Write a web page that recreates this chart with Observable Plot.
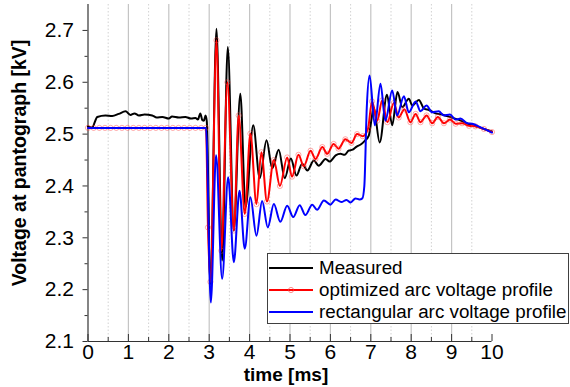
<!DOCTYPE html>
<html>
<head>
<meta charset="utf-8">
<script src="https://cdn.jsdelivr.net/npm/d3@7"></script>
<script src="https://cdn.jsdelivr.net/npm/@observablehq/plot@0.6"></script>
<style>
  html, body { margin: 0; padding: 0; background: #fff; }
  #wrap { position: relative; width: 570px; height: 387px; font-family: "Liberation Sans", Arial, sans-serif; }
  #legend { position: absolute; left: 267px; top: 253px; width: 300px; height: 69px; border: 1px solid #404040; background: #fff; box-sizing: content-box; }
  .row { position: absolute; left: 0; height: 22px; display: flex; align-items: center; font-size: 18.8px; color: #000; white-space: nowrap; }
  .row svg { margin-left: 1px; margin-right: 6px; }
</style>
</head>
<body>
<div id="wrap"></div>
<script>
// ---- data ----
const xMajor = [0,1,2,3,4,5,6,7,8,9,10];
const xMinor = [0.5,1.5,2.5,3.5,4.5,5.5,6.5,7.5,8.5,9.5];
const gridMajor = [1,2,3,4,5,6,7,8,9];
const yMajor = [2.1,2.2,2.3,2.4,2.5,2.6,2.7];
const yMinor = [2.15,2.25,2.35,2.45,2.55,2.65];

const seriesNames = ["Measured", "optimized arc voltage profile", "rectangular arc voltage profile"];
const seriesColors = ["#000000", "#ff0000", "#0000ff"];

const measuredT = [0.00,0.10,0.23,0.43,0.60,0.76,0.93,1.05,1.15,1.26,1.40,1.59,1.70,1.84,2.00,2.08,2.25,2.41,2.55,2.66,2.72,2.78,2.83,2.87,2.91,2.94,
  3.03,3.18,3.32,3.46,3.61,3.77,3.90,4.09,4.25,4.42,4.56,4.72,4.87,5.02,5.16,5.30,5.43,5.59,5.71,5.88,5.98,6.13,6.25,6.35,6.45,6.55,6.65,6.75,6.85,6.95,
  7.02,7.07,7.22,7.40,7.53,7.66,7.78,7.94,8.03,8.19,8.31,8.45,8.60,8.80,9.00,9.20,9.40,9.60,9.80,10.00];
const measuredV = [2.515,2.513,2.533,2.536,2.535,2.539,2.544,2.537,2.540,2.536,2.538,2.536,2.532,2.533,2.530,2.534,2.532,2.533,2.530,2.531,2.528,2.540,2.527,2.526,2.536,2.525,
  2.210,2.703,2.256,2.668,2.314,2.578,2.359,2.517,2.415,2.488,2.434,2.470,2.415,2.453,2.420,2.443,2.430,2.449,2.439,2.452,2.447,2.459,2.462,2.460,2.468,2.470,2.476,2.480,2.487,2.497,
  2.530,2.552,2.484,2.576,2.517,2.581,2.552,2.568,2.555,2.566,2.550,2.546,2.540,2.537,2.532,2.527,2.520,2.515,2.510,2.505];

const optimizedT = [0.00,0.14,0.28,0.42,0.56,0.70,0.84,0.98,1.12,1.26,1.40,1.54,1.68,1.82,1.96,2.10,2.24,2.38,2.52,2.66,2.80,2.92,
  2.97,3.03,3.18,3.30,3.45,3.61,3.73,3.88,4.02,4.17,4.29,4.43,4.60,4.75,4.93,5.05,5.21,5.34,5.51,5.63,5.80,5.92,6.08,6.20,6.37,6.52,6.66,6.80,6.93,
  7.03,7.16,7.28,7.41,7.57,7.69,7.83,7.98,8.11,8.23,8.38,8.52,8.66,8.81,8.96,9.10,9.26,9.43,9.59,9.80,10.00];
const optimizedV = [2.512,2.512,2.512,2.512,2.512,2.512,2.512,2.512,2.512,2.512,2.512,2.512,2.512,2.512,2.512,2.512,2.512,2.512,2.512,2.512,2.512,2.512,
  2.320,2.215,2.681,2.275,2.600,2.314,2.536,2.346,2.501,2.365,2.465,2.370,2.450,2.400,2.455,2.418,2.460,2.438,2.468,2.452,2.475,2.462,2.481,2.472,2.490,2.483,2.500,2.496,2.510,
  2.563,2.526,2.565,2.523,2.560,2.532,2.548,2.523,2.539,2.523,2.536,2.521,2.533,2.521,2.528,2.520,2.521,2.516,2.515,2.510,2.504];

const rectangularT = [0.00,1.50,2.80,2.92,
  3.04,3.17,3.32,3.47,3.61,3.75,3.88,4.02,4.17,4.31,4.45,4.60,4.76,4.93,5.08,5.24,5.38,5.55,5.67,5.84,6.00,6.13,6.27,6.40,6.50,6.62,6.72,6.79,
  6.84,6.90,6.97,7.10,7.24,7.36,7.53,7.65,7.82,7.94,8.11,8.23,8.38,8.52,8.68,8.81,8.96,9.10,9.22,9.39,9.51,9.72,10.00];
const rectangularV = [2.512,2.512,2.512,2.512,
  2.175,2.459,2.221,2.417,2.253,2.391,2.279,2.378,2.304,2.371,2.320,2.365,2.331,2.362,2.340,2.363,2.344,2.364,2.354,2.372,2.364,2.374,2.369,2.373,2.368,2.376,2.374,2.376,
  2.400,2.550,2.613,2.517,2.597,2.526,2.584,2.536,2.573,2.542,2.563,2.544,2.555,2.542,2.544,2.536,2.538,2.528,2.530,2.521,2.520,2.513,2.503];

const measured = measuredT.map((t, i) => ({t, v: measuredV[i]}));
const optimized = optimizedT.map((t, i) => ({t, v: optimizedV[i]}));
const rectangular = rectangularT.map((t, i) => ({t, v: rectangularV[i]}));

const font = "Liberation Sans, Arial, sans-serif";
const lw = 2;

const chart = Plot.plot({
  width: 570,
  height: 387,
  marginLeft: 87.5,
  marginRight: 78.5,
  marginTop: 4,
  marginBottom: 46,
  style: {fontFamily: font, background: "#fff", color: "#000"},
  x: {domain: [0, 10], axis: null},
  y: {domain: [2.1, 2.75], axis: null},
  marks: [
    Plot.gridX(xMinor, {stroke: "#d2d2d2", strokeOpacity: 1, strokeDasharray: "1.5,2"}),
    Plot.gridX(gridMajor, {stroke: "#c4c4c4", strokeOpacity: 1, strokeWidth: 1.2}),
    // x axis ticks (inward) and labels
    Plot.axisX({ticks: xMajor, tickSize: -7, tickFormat: () => "", label: null, stroke: "#333"}),
    Plot.axisX({ticks: xMinor, tickSize: -4, tickFormat: () => "", label: null, stroke: "#333"}),
    Plot.axisX({ticks: xMajor, tickSize: 0, tickPadding: 3, fontSize: 21, label: null, tickFormat: d3.format("d"), fill: "#000"}),
    // y axis ticks (outward) and labels
    Plot.axisY({ticks: yMajor, tickSize: 5, tickPadding: 9, fontSize: 21, label: null, tickFormat: d3.format(".1f"), stroke: "#333", fill: "#000"}),
    Plot.axisY({ticks: yMinor, tickSize: 3, tickFormat: () => "", label: null, stroke: "#333"}),
    Plot.ruleX([0], {stroke: "#333", strokeWidth: 1.2}),
    Plot.ruleY([2.1], {stroke: "#333", strokeWidth: 1.2}),
    // series
    Plot.line(measured, {x: "t", y: "v", stroke: seriesColors[0], strokeWidth: lw, curve: "monotone-x"}),
    Plot.line(optimized, {x: "t", y: "v", stroke: seriesColors[1], strokeWidth: lw, curve: "monotone-x"}),
    Plot.dot(optimized, {x: "t", y: "v", r: 2.6, stroke: "#ff4040", strokeOpacity: 0.45, strokeWidth: 1, fill: "none"}),
    Plot.line(rectangular, {x: "t", y: "v", stroke: seriesColors[2], strokeWidth: lw, curve: "monotone-x"}),
    // axis titles
    Plot.text(["Voltage at pantograph [kV]"], {frameAnchor: "left", rotate: -90, dx: -68, dy: -10, fontSize: 19.5, fontWeight: "bold", fill: "#000", textAnchor: "middle", lineAnchor: "middle"}),
    Plot.text(["time [ms]"], {frameAnchor: "bottom", dx: -4, dy: 33, fontSize: 19, fontWeight: "bold", fill: "#000", textAnchor: "middle", lineAnchor: "middle"})
  ]
});

const wrap = document.getElementById("wrap");
wrap.appendChild(chart);

// legend overlay
const legend = document.createElement("div");
legend.id = "legend";
const rowTops = [3, 25, 47];
seriesNames.forEach((name, i) => {
  const row = document.createElement("div");
  row.className = "row";
  row.style.top = rowTops[i] + "px";
  const marker = i === 1 ? `<circle cx="22" cy="11" r="2.6" fill="none" stroke="#ff4040" stroke-opacity="0.6"/>` : "";
  row.innerHTML = `<svg width="44" height="22"><line x1="0" x2="44" y1="11" y2="11" stroke="${seriesColors[i]}" stroke-width="${lw}"/>${marker}</svg><span>${name}</span>`;
  legend.appendChild(row);
});
wrap.appendChild(legend);
</script>
</body>
</html>
